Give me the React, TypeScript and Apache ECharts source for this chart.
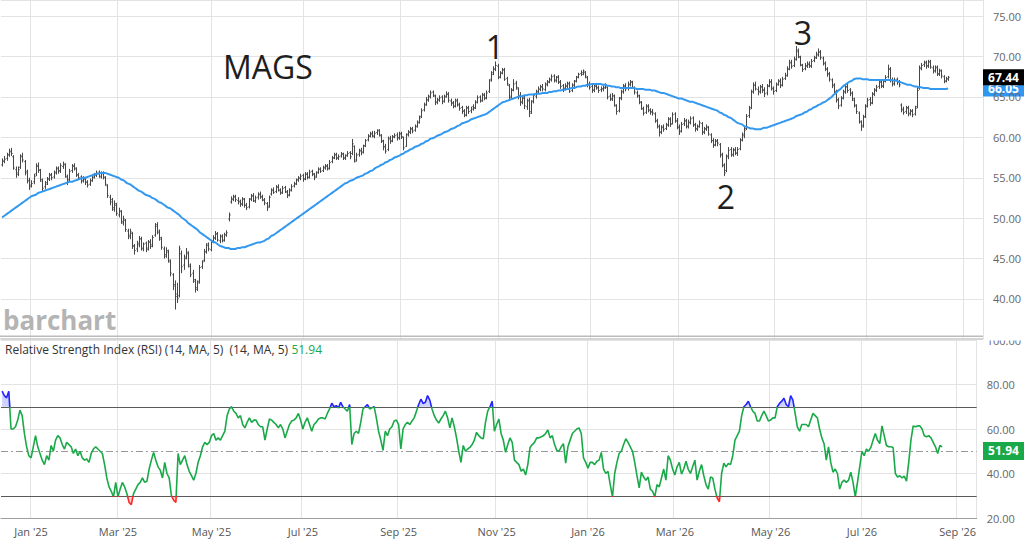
import React, { useEffect, useRef } from "react";
import * as echarts from "echarts";

// ---- price data (daily OHLC, Dec 12 2024 .. Aug 21 2026) ----
const closes = [
  57.0, 57.3, 57.8, 58.2, 58.0, 56.2, 55.4, 56.0, 57.6, 57.2,
  55.6, 54.6, 53.9, 54.3, 55.2, 56.4, 56.0, 54.8, 53.7, 54.2,
  54.8, 55.3, 55.0, 55.6, 56.1, 55.8, 56.5, 56.7, 55.2, 54.6,
  55.8, 56.4, 56.2, 55.3, 55.0, 54.6, 54.9, 54.4, 54.1, 54.6,
  55.0, 55.4, 55.6, 55.2, 55.5, 55.1, 54.2, 52.8, 52.0, 51.3,
  51.8, 50.6, 50.9, 49.6, 49.9, 48.6, 47.9, 48.3, 46.6, 46.0,
  46.9, 47.4, 46.3, 46.8, 46.1, 47.0, 46.5, 47.6, 49.0, 48.4,
  47.6, 46.4, 45.5, 46.0, 44.8, 43.2, 41.6, 40.3, 40.1, 46.2,
  44.0, 45.0, 45.8, 44.2, 43.0, 42.4, 41.2, 42.0, 43.9, 44.6,
  45.8, 46.6, 46.2, 47.0, 47.6, 48.0, 47.3, 47.7, 47.2, 47.9,
  48.2, 50.4, 52.4, 52.6, 52.3, 52.1, 51.8, 52.4, 51.6, 51.3,
  52.3, 52.7, 52.2, 52.5, 52.9, 52.6, 52.3, 51.9, 51.3, 52.6,
  53.4, 53.2, 53.8, 53.5, 53.1, 53.7, 53.3, 52.8, 53.4, 53.9,
  54.2, 54.7, 54.9, 55.2, 54.8, 55.4, 55.0, 55.7, 55.5, 55.0,
  55.6, 56.0, 55.8, 56.2, 56.4, 56.1, 56.9, 57.4, 57.8, 57.5,
  57.6, 57.9, 57.4, 57.7, 58.0, 57.6, 59.2, 57.0, 57.8, 58.3,
  58.1, 58.9, 59.6, 60.1, 60.4, 60.2, 60.5, 60.8, 60.3, 59.6,
  58.8, 58.3, 59.8, 59.5, 60.0, 60.2, 59.9, 60.4, 60.1, 58.7,
  60.3, 60.6, 61.0, 60.8, 61.3, 61.8, 62.4, 63.3, 64.0, 64.6,
  65.0, 65.5, 65.2, 64.3, 64.6, 64.9, 64.4, 65.0, 65.3, 64.6,
  64.2, 63.8, 64.5, 64.0, 63.6, 63.2, 62.7, 63.6, 63.2, 63.5,
  63.6, 64.3, 64.9, 64.5, 65.2, 64.8, 65.5, 67.0, 67.8, 68.4,
  68.9, 67.4, 67.9, 68.3, 67.2, 66.6, 64.9, 65.8, 66.6, 66.2,
  65.0, 64.3, 64.8, 63.9, 64.5, 63.0, 64.4, 65.2, 65.6, 66.0,
  66.2, 66.0, 66.5, 66.8, 67.2, 67.5, 67.1, 67.4, 66.8, 66.3,
  66.0, 66.4, 66.6, 65.7, 66.5, 66.9, 67.4, 67.8, 68.0, 68.2,
  67.6, 66.5, 66.2, 65.9, 66.3, 66.2, 65.8, 66.0, 66.1, 66.4,
  65.0, 64.8, 65.2, 64.0, 63.2, 64.8, 65.6, 66.3, 66.0, 66.6,
  66.8, 66.2, 65.6, 65.2, 64.4, 63.6, 63.0, 63.8, 63.4, 63.1,
  63.0, 62.0, 61.4, 60.6, 61.2, 61.0, 61.5, 62.2, 61.6, 62.8,
  62.0, 61.2, 60.7, 61.6, 62.0, 61.3, 61.9, 62.3, 61.5, 61.0,
  61.3, 61.8, 60.6, 61.0, 61.3, 60.4, 59.6, 59.0, 59.5, 59.3,
  57.8, 56.6, 55.6, 57.6, 58.4, 57.9, 58.4, 58.1, 58.5, 59.6,
  60.2, 60.9, 62.6, 63.5, 65.6, 66.4, 66.0, 65.6, 66.2, 65.8,
  65.4, 66.3, 66.8, 66.1, 65.7, 66.5, 66.9, 66.4, 67.2, 67.6,
  68.4, 69.2, 68.8, 69.6, 70.6, 70.0, 69.0, 68.4, 68.8, 69.0,
  68.9, 69.4, 69.8, 70.3, 70.5, 69.9, 69.1, 68.5, 67.8, 67.2,
  66.4, 65.6, 64.6, 63.9, 64.8, 65.6, 66.2, 65.8, 65.4, 64.8,
  64.0, 63.2, 62.0, 61.3, 62.5, 63.8, 64.6, 64.2, 65.3, 65.8,
  66.2, 66.8, 66.4, 66.9, 67.4, 68.4, 67.0, 66.6, 67.1, 66.8,
  66.5, 63.4, 63.1, 63.6, 62.9, 63.2, 62.8, 63.6, 65.8, 68.5,
  68.9, 69.2, 68.8, 69.3, 68.7, 68.2, 68.6, 67.9, 68.3, 67.6,
  66.9, 67.3, 67.44,
];

const opens = [
  56.6, 57.1, 57.4, 57.9, 58.3, 57.6, 56.0, 55.6, 56.3, 57.7,
  57.0, 55.8, 54.7, 54.1, 54.5, 55.5, 56.5, 55.9, 54.6, 53.9,
  54.4, 54.9, 55.4, 55.1, 55.7, 56.2, 55.9, 56.4, 56.6, 55.1,
  54.8, 55.9, 56.5, 56.1, 55.4, 55.1, 54.7, 54.8, 54.5, 54.2,
  54.7, 55.1, 55.3, 55.7, 55.1, 55.6, 55.0, 54.0, 52.6, 52.3,
  51.1, 51.6, 50.4, 50.8, 49.4, 49.7, 48.4, 47.7, 48.1, 46.5,
  46.2, 46.7, 47.5, 46.2, 46.9, 46.3, 47.1, 46.7, 47.9, 49.2,
  48.2, 47.4, 46.2, 45.3, 45.8, 44.6, 43.0, 41.8, 40.6, 40.4,
  45.6, 44.2, 45.2, 45.6, 44.0, 43.2, 42.2, 41.4, 42.2, 44.0,
  44.8, 45.9, 46.8, 46.1, 47.2, 47.5, 48.1, 47.2, 47.8, 47.3,
  48.0, 49.9, 52.0, 52.3, 52.7, 52.2, 52.0, 51.7, 52.3, 51.6,
  51.4, 52.4, 52.8, 52.1, 52.6, 53.0, 52.7, 52.2, 51.8, 51.5,
  53.0, 53.5, 53.3, 53.9, 53.4, 53.2, 53.8, 53.2, 52.9, 53.5,
  54.0, 54.3, 54.8, 55.0, 55.3, 54.9, 55.5, 55.1, 55.8, 55.4,
  55.2, 55.7, 56.1, 55.9, 56.3, 56.5, 56.2, 57.0, 57.5, 57.9,
  57.4, 57.7, 58.0, 57.5, 57.8, 58.1, 58.0, 58.9, 57.2, 57.9,
  58.4, 58.2, 59.0, 59.7, 60.2, 60.5, 60.1, 60.6, 60.9, 60.2,
  59.5, 58.9, 58.5, 59.9, 59.6, 60.1, 60.3, 60.0, 60.5, 60.0,
  58.9, 60.4, 60.7, 61.1, 60.9, 61.4, 61.9, 62.6, 63.4, 64.1,
  64.7, 65.1, 65.6, 65.1, 64.4, 64.7, 65.0, 64.5, 65.1, 65.4,
  64.5, 64.3, 63.9, 64.6, 64.1, 63.7, 63.3, 62.8, 63.7, 63.3,
  63.8, 63.7, 64.4, 65.0, 64.6, 65.3, 64.9, 65.7, 67.2, 68.0,
  68.5, 68.8, 67.5, 68.0, 68.4, 67.3, 66.4, 65.1, 65.9, 66.7,
  66.0, 65.2, 64.4, 64.9, 63.8, 64.6, 63.2, 64.5, 65.1, 65.7,
  65.9, 66.3, 65.9, 66.6, 66.9, 67.1, 67.6, 67.0, 67.5, 66.9,
  66.4, 66.1, 66.3, 66.7, 65.8, 66.4, 67.0, 67.5, 67.9, 67.8,
  68.0, 67.4, 66.6, 66.3, 65.8, 66.4, 66.1, 65.9, 66.0, 66.2,
  66.2, 65.1, 64.7, 65.1, 63.9, 63.3, 64.9, 65.7, 66.4, 66.1,
  66.5, 66.9, 66.1, 65.5, 65.1, 64.3, 63.5, 63.1, 63.9, 63.3,
  63.2, 62.9, 62.1, 61.3, 60.7, 61.3, 61.1, 61.6, 62.3, 61.7,
  62.9, 62.1, 61.3, 60.8, 61.7, 62.1, 61.4, 61.8, 62.4, 61.6,
  61.1, 61.4, 61.7, 60.7, 61.1, 61.2, 60.3, 59.6, 59.1, 59.6,
  59.1, 57.9, 56.5, 55.9, 57.7, 58.5, 57.8, 58.5, 58.0, 58.6,
  59.7, 60.4, 61.1, 62.7, 63.7, 65.7, 66.5, 65.9, 65.7, 66.3,
  65.9, 65.5, 66.4, 66.9, 66.0, 65.8, 66.6, 67.0, 66.5, 67.3,
  67.7, 68.5, 69.3, 68.9, 69.7, 70.8, 69.9, 68.9, 68.5, 68.9,
  69.1, 68.8, 69.5, 69.9, 70.2, 70.6, 69.8, 69.2, 68.4, 67.9,
  67.1, 66.5, 65.7, 64.7, 64.0, 64.9, 65.7, 66.3, 65.9, 65.5,
  64.6, 63.9, 63.0, 61.9, 61.5, 62.6, 63.9, 64.7, 64.3, 65.4,
  65.9, 66.3, 66.9, 66.3, 67.0, 67.5, 68.5, 67.1, 66.7, 67.2,
  66.9, 64.0, 63.5, 63.2, 63.7, 63.0, 63.3, 62.9, 63.8, 66.1,
  68.6, 69.0, 69.3, 68.9, 69.4, 68.6, 68.3, 68.7, 67.8, 68.2,
  67.5, 67.0, 67.2,
];

const highs = [
  57.4, 57.7, 58.1, 58.6, 58.7, 57.8, 56.4, 56.4, 57.9, 58.1,
  57.2, 56.0, 55.0, 54.7, 55.5, 56.8, 56.9, 56.1, 54.9, 54.6,
  55.1, 55.6, 55.6, 55.9, 56.4, 56.4, 56.8, 57.0, 56.8, 55.4,
  56.1, 56.7, 56.8, 56.3, 55.6, 55.3, 55.2, 55.0, 54.7, 54.9,
  55.3, 55.6, 55.9, 55.9, 55.8, 55.8, 55.2, 54.2, 52.9, 52.5,
  52.2, 51.9, 51.3, 51.0, 50.3, 49.9, 48.7, 48.7, 48.3, 46.8,
  47.2, 47.8, 47.7, 47.0, 47.1, 47.3, 47.4, 47.9, 49.4, 49.5,
  48.6, 47.7, 46.5, 46.4, 46.1, 44.9, 43.2, 42.3, 42.0, 46.6,
  46.0, 45.5, 46.3, 45.9, 44.4, 43.6, 42.5, 42.3, 44.2, 44.8,
  46.2, 46.9, 47.0, 47.3, 47.9, 48.4, 48.3, 48.0, 48.0, 48.2,
  48.5, 50.7, 52.7, 52.9, 52.9, 52.6, 52.3, 52.6, 52.5, 51.9,
  52.5, 53.0, 53.1, 52.8, 53.2, 53.3, 52.9, 52.5, 52.0, 52.8,
  53.7, 53.8, 54.1, 54.2, 53.7, 54.0, 54.0, 53.5, 53.7, 54.2,
  54.5, 54.9, 55.2, 55.5, 55.5, 55.7, 55.7, 56.0, 56.0, 55.6,
  55.8, 56.3, 56.3, 56.5, 56.7, 56.7, 57.2, 57.7, 58.1, 58.1,
  57.9, 58.2, 58.1, 57.9, 58.3, 58.3, 59.8, 59.0, 58.1, 58.6,
  58.7, 59.1, 59.8, 60.4, 60.7, 60.8, 60.8, 61.0, 61.0, 60.4,
  59.7, 59.2, 60.1, 60.2, 60.3, 60.5, 60.6, 60.7, 60.7, 60.1,
  60.5, 60.9, 61.3, 61.3, 61.6, 62.1, 62.7, 63.6, 64.3, 65.0,
  65.3, 65.8, 65.8, 65.3, 64.9, 65.2, 65.2, 65.3, 65.7, 65.6,
  64.8, 64.5, 64.8, 64.8, 64.3, 63.9, 63.5, 63.9, 63.9, 63.8,
  64.1, 64.6, 65.2, 65.2, 65.5, 65.5, 65.8, 67.2, 68.2, 68.8,
  69.4, 69.1, 68.2, 68.6, 68.6, 67.5, 66.6, 66.1, 67.2, 67.0,
  66.2, 65.6, 65.2, 65.2, 64.8, 64.9, 64.6, 65.4, 65.9, 66.3,
  66.5, 66.6, 66.8, 67.1, 67.4, 67.8, 67.8, 67.6, 67.7, 67.1,
  66.6, 66.7, 66.9, 66.9, 66.7, 67.1, 67.6, 68.0, 68.3, 68.4,
  68.2, 67.6, 66.9, 66.6, 66.6, 66.7, 66.4, 66.3, 66.4, 66.7,
  66.3, 65.4, 65.5, 65.3, 64.1, 65.0, 65.9, 66.6, 66.7, 66.9,
  67.1, 67.0, 66.3, 65.8, 65.3, 64.5, 63.8, 64.1, 64.1, 63.6,
  63.5, 63.1, 62.3, 61.6, 61.5, 61.6, 61.8, 62.5, 62.5, 63.1,
  63.1, 62.4, 61.6, 61.9, 62.4, 62.3, 62.2, 62.6, 62.6, 61.8,
  61.6, 62.1, 61.9, 61.3, 61.6, 61.4, 60.5, 59.9, 59.8, 59.8,
  59.3, 58.1, 56.8, 57.9, 58.8, 58.8, 58.7, 58.8, 58.8, 59.9,
  60.6, 61.4, 62.9, 63.9, 65.9, 66.8, 66.9, 66.3, 66.5, 66.6,
  66.2, 66.6, 67.2, 67.2, 66.3, 66.8, 67.2, 67.3, 67.5, 68.0,
  68.8, 69.6, 69.6, 70.0, 71.3, 71.0, 70.1, 69.1, 69.2, 69.4,
  69.4, 69.7, 70.1, 70.6, 71.0, 70.8, 70.0, 69.4, 68.7, 68.1,
  67.3, 66.7, 65.9, 64.9, 65.1, 65.9, 66.6, 66.8, 66.1, 65.7,
  64.9, 64.1, 63.2, 62.1, 62.8, 64.1, 64.9, 65.0, 65.6, 66.1,
  66.5, 67.1, 67.2, 67.2, 67.7, 69.0, 68.7, 67.4, 67.4, 67.4,
  67.1, 64.2, 63.8, 63.9, 63.9, 63.5, 63.5, 63.9, 66.3, 68.9,
  69.2, 69.5, 69.5, 69.6, 69.6, 68.9, 68.9, 68.9, 68.5, 68.4,
  67.7, 67.5, 67.6,
];

const lows = [
  56.4, 56.8, 57.1, 57.6, 57.7, 56.0, 55.0, 55.2, 56.1, 56.9,
  55.3, 54.3, 53.5, 53.8, 54.2, 55.2, 55.6, 54.5, 53.3, 53.6,
  54.1, 54.6, 54.7, 54.9, 55.4, 55.5, 55.6, 56.1, 55.0, 54.1,
  54.6, 55.6, 55.9, 55.1, 54.7, 54.3, 54.4, 54.1, 53.8, 54.0,
  54.5, 54.9, 55.1, 55.0, 54.9, 54.8, 54.0, 52.5, 51.6, 50.9,
  50.8, 50.3, 50.1, 49.3, 49.1, 48.3, 47.4, 47.4, 46.2, 45.5,
  45.8, 46.4, 46.0, 45.9, 45.8, 46.0, 46.2, 46.4, 47.7, 48.0,
  47.2, 46.1, 45.0, 45.1, 44.5, 42.8, 41.1, 38.7, 39.5, 40.2,
  43.2, 43.6, 44.9, 43.9, 42.7, 42.0, 40.8, 41.0, 41.9, 43.7,
  44.6, 45.6, 45.9, 45.9, 46.9, 47.3, 47.1, 46.9, 47.0, 47.1,
  47.7, 49.6, 51.8, 52.1, 52.0, 51.7, 51.4, 51.5, 51.3, 51.0,
  51.2, 52.1, 52.0, 51.9, 52.3, 52.4, 52.1, 51.6, 50.9, 51.3,
  52.8, 53.0, 53.1, 53.3, 52.9, 53.0, 53.1, 52.5, 52.7, 53.3,
  53.8, 54.1, 54.5, 54.7, 54.5, 54.7, 54.8, 54.9, 55.2, 54.7,
  55.0, 55.5, 55.6, 55.7, 56.0, 55.9, 56.0, 56.8, 57.3, 57.2,
  57.2, 57.5, 57.2, 57.2, 57.6, 57.3, 57.8, 56.9, 57.0, 57.6,
  57.8, 58.0, 58.8, 59.5, 60.0, 60.0, 59.9, 60.3, 60.1, 59.3,
  58.4, 58.0, 58.3, 59.2, 59.4, 59.9, 59.6, 59.7, 59.8, 58.4,
  58.8, 60.1, 60.4, 60.5, 60.7, 61.2, 61.7, 62.4, 63.2, 63.9,
  64.4, 64.8, 65.0, 64.0, 64.1, 64.4, 64.1, 64.3, 64.9, 64.3,
  63.9, 63.6, 63.7, 63.8, 63.3, 62.9, 62.5, 62.6, 62.9, 63.0,
  63.3, 63.5, 64.2, 64.3, 64.4, 64.6, 64.7, 65.5, 66.9, 67.7,
  68.2, 67.2, 67.3, 67.8, 67.0, 66.4, 64.5, 64.8, 65.7, 65.9,
  64.7, 63.9, 64.1, 63.5, 63.4, 62.5, 62.9, 64.2, 64.8, 65.4,
  65.7, 65.7, 65.7, 66.3, 66.7, 66.9, 66.8, 66.8, 66.6, 66.0,
  65.6, 65.8, 66.1, 65.5, 65.6, 66.2, 66.8, 67.3, 67.6, 67.7,
  67.3, 66.2, 65.9, 65.5, 65.6, 65.9, 65.5, 65.6, 65.7, 66.0,
  64.7, 64.5, 64.5, 63.8, 62.8, 63.1, 64.6, 65.4, 65.7, 65.8,
  66.3, 66.0, 65.3, 64.9, 64.1, 63.4, 62.7, 62.9, 63.1, 62.8,
  62.7, 61.8, 61.1, 60.1, 60.4, 60.7, 60.9, 61.3, 61.3, 61.6,
  61.8, 61.0, 60.3, 60.6, 61.4, 61.1, 61.1, 61.6, 61.3, 60.7,
  60.8, 61.2, 60.3, 60.4, 60.8, 60.2, 59.3, 58.7, 58.9, 58.9,
  57.5, 56.3, 55.2, 55.7, 57.3, 57.6, 57.6, 57.8, 57.7, 58.4,
  59.5, 59.9, 60.9, 62.4, 63.5, 65.4, 65.8, 65.2, 65.4, 65.5,
  65.0, 65.2, 66.2, 65.8, 65.3, 65.6, 66.4, 66.1, 66.3, 67.1,
  67.5, 68.3, 68.5, 68.7, 69.5, 69.8, 68.8, 68.1, 68.3, 68.6,
  68.6, 68.6, 69.3, 69.7, 70.0, 69.6, 68.9, 68.2, 67.5, 66.9,
  66.1, 65.3, 64.3, 63.5, 63.8, 64.7, 65.4, 65.5, 65.1, 64.5,
  63.7, 62.9, 61.7, 60.8, 61.2, 62.4, 63.7, 63.9, 64.1, 65.1,
  65.6, 66.0, 66.1, 66.1, 66.8, 67.3, 66.8, 66.3, 66.4, 66.5,
  66.2, 63.1, 62.8, 62.9, 62.6, 62.7, 62.5, 62.7, 63.6, 65.9,
  68.3, 68.7, 68.5, 68.6, 68.5, 67.9, 68.0, 67.6, 67.6, 67.3,
  66.7, 66.8, 67.0,
];

// ---- moving average (blue line) ----
const movingAvg = [
  50.1, 50.3, 50.5, 50.7, 50.9, 51.1, 51.3, 51.5, 51.7, 51.9,
  52.1, 52.3, 52.5, 52.7, 52.8, 52.9, 53.1, 53.2, 53.3, 53.4,
  53.5, 53.6, 53.7, 53.8, 53.9, 54.0, 54.1, 54.2, 54.3, 54.4,
  54.5, 54.5, 54.6, 54.7, 54.8, 54.9, 55.0, 55.0, 55.1, 55.2,
  55.3, 55.4, 55.5, 55.5, 55.6, 55.6, 55.6, 55.5, 55.4, 55.3,
  55.2, 55.1, 55.0, 54.8, 54.7, 54.5, 54.3, 54.2, 54.0, 53.8,
  53.6, 53.4, 53.3, 53.1, 52.9, 52.8, 52.7, 52.5, 52.4, 52.2,
  52.0, 51.9, 51.7, 51.5, 51.3, 51.2, 51.0, 50.8, 50.6, 50.4,
  50.1, 49.9, 49.7, 49.4, 49.2, 49.0, 48.8, 48.6, 48.3, 48.1,
  47.9, 47.7, 47.5, 47.3, 47.1, 47.0, 46.8, 46.6, 46.5, 46.4,
  46.3, 46.3, 46.2, 46.2, 46.2, 46.3, 46.3, 46.4, 46.4, 46.5,
  46.6, 46.7, 46.8, 46.9, 47.0, 47.0, 47.1, 47.2, 47.4, 47.5,
  47.8, 47.9, 48.1, 48.3, 48.5, 48.7, 48.9, 49.1, 49.3, 49.5,
  49.7, 49.9, 50.1, 50.3, 50.5, 50.7, 50.9, 51.1, 51.3, 51.5,
  51.7, 51.9, 52.1, 52.3, 52.5, 52.7, 52.9, 53.1, 53.3, 53.5,
  53.7, 53.9, 54.1, 54.3, 54.4, 54.6, 54.7, 54.8, 55.0, 55.1,
  55.2, 55.3, 55.5, 55.6, 55.8, 55.9, 56.1, 56.3, 56.4, 56.6,
  56.7, 56.9, 57.0, 57.2, 57.3, 57.5, 57.6, 57.7, 57.9, 58.0,
  58.2, 58.3, 58.5, 58.6, 58.8, 58.9, 59.0, 59.2, 59.3, 59.5,
  59.6, 59.8, 59.9, 60.0, 60.2, 60.3, 60.4, 60.6, 60.7, 60.8,
  61.0, 61.1, 61.2, 61.4, 61.5, 61.7, 61.8, 61.9, 62.0, 62.2,
  62.3, 62.4, 62.5, 62.6, 62.7, 62.8, 62.9, 63.1, 63.3, 63.5,
  63.7, 63.9, 64.1, 64.3, 64.4, 64.5, 64.6, 64.7, 64.8, 64.9,
  65.0, 65.1, 65.1, 65.2, 65.2, 65.3, 65.3, 65.3, 65.4, 65.4,
  65.4, 65.5, 65.5, 65.5, 65.6, 65.6, 65.7, 65.7, 65.8, 65.8,
  65.9, 65.9, 66.0, 66.0, 66.1, 66.1, 66.2, 66.3, 66.3, 66.4,
  66.4, 66.5, 66.5, 66.6, 66.6, 66.6, 66.6, 66.6, 66.5, 66.5,
  66.4, 66.4, 66.3, 66.3, 66.2, 66.2, 66.1, 66.1, 66.1, 66.1,
  66.1, 66.1, 66.1, 66.0, 66.0, 66.0, 66.0, 65.9, 65.9, 65.9,
  65.8, 65.8, 65.7, 65.6, 65.5, 65.5, 65.4, 65.3, 65.2, 65.1,
  65.0, 64.9, 64.8, 64.8, 64.7, 64.6, 64.5, 64.4, 64.4, 64.3,
  64.2, 64.1, 64.0, 63.9, 63.8, 63.7, 63.6, 63.5, 63.4, 63.3,
  63.1, 63.0, 62.8, 62.7, 62.5, 62.4, 62.2, 62.0, 61.8, 61.7,
  61.6, 61.4, 61.3, 61.2, 61.1, 61.1, 61.0, 61.0, 61.0, 61.1,
  61.2, 61.2, 61.3, 61.4, 61.5, 61.6, 61.7, 61.8, 61.9, 62.0,
  62.1, 62.2, 62.3, 62.4, 62.6, 62.7, 62.8, 62.9, 63.1, 63.2,
  63.4, 63.5, 63.7, 63.8, 64.0, 64.1, 64.3, 64.4, 64.6, 64.8,
  65.0, 65.3, 65.5, 65.8, 66.0, 66.3, 66.5, 66.7, 66.9, 67.0,
  67.2, 67.3, 67.3, 67.3, 67.2, 67.2, 67.2, 67.1, 67.1, 67.1,
  67.1, 67.1, 67.1, 67.1, 67.1, 67.1, 67.1, 67.1, 67.0, 67.0,
  66.9, 66.8, 66.7, 66.6, 66.5, 66.5, 66.4, 66.3, 66.3, 66.2,
  66.2, 66.1, 66.1, 66.1, 66.0, 66.0, 66.0, 66.0, 66.0, 66.0,
  66.0, 66.0, 66.05,
];

// ---- RSI (14) ----
const rsi = [
  77, 75, 74, 77, 60, 60, 61, 64, 68.5, 66,
  58, 52, 48, 47, 52, 57, 52, 49, 46, 44,
  48, 46, 52.6, 50, 55, 57, 56, 53, 51, 54,
  53, 52, 49, 51, 48, 50, 47, 46, 46.5, 45,
  49, 51, 52, 51, 50, 49, 44, 38, 34, 32,
  29.5, 36, 29.5, 33, 36, 34, 31, 27, 26, 31,
  33, 35, 36, 38, 36, 36.5, 42, 46, 49.5, 46,
  43, 41.5, 38, 45, 40, 38, 30, 28, 27, 49,
  44, 46, 48, 44, 41, 39, 37, 40, 45, 48,
  52, 54, 53, 54, 57, 58, 55, 56, 55, 57,
  59, 66, 69, 70, 68, 67, 65, 66, 62, 60.5,
  63, 65, 63, 64, 64, 62, 61, 61, 55, 60,
  64.5, 64, 63, 62, 60.5, 62, 60, 56, 59, 62,
  63.6, 64, 65, 67, 64, 60, 63, 65, 62, 59,
  62, 63, 64.5, 65, 65, 64.5, 67, 69, 71.6, 70,
  70.5, 69.5, 72, 70, 69, 68, 71, 53, 58, 59,
  58, 63, 69, 70, 71, 69, 69.5, 70, 65, 59,
  55, 50.4, 59, 57, 60, 61, 63.6, 64, 62, 51,
  60, 62, 63, 62, 63.6, 65, 68, 71, 73.4, 71.5,
  72, 75, 73, 69, 66, 64, 62.7, 64.5, 66, 68,
  65, 60.5, 65, 61, 56, 50, 45, 52.6, 50, 51,
  51.7, 53, 55, 58.5, 57, 56, 55.6, 63, 68, 70,
  72.5, 59, 62, 64.5, 58, 55, 49.5, 53, 56, 54,
  46, 45, 44, 41, 42, 39.3, 44, 51.7, 53, 54,
  56, 56, 56.5, 57, 58, 59.6, 56, 57, 53, 50.4,
  50, 52, 53.4, 44.6, 52, 55, 58, 59, 60, 60.5,
  58, 47, 45, 42.4, 45, 45, 44, 45.5, 46, 49.5,
  42, 40, 41, 35, 29.5, 40, 45, 49, 50, 53,
  55.6, 54, 52, 50, 45, 39, 33.5, 40.6, 38.4, 37,
  38.4, 33, 32, 29.5, 35, 34, 38, 42, 37, 48,
  46, 42, 39.3, 43, 45, 39.7, 42, 45.5, 42, 40,
  43, 46, 37, 41, 44, 39, 35, 33, 38.4, 38,
  33, 29, 27.3, 40, 44.6, 43, 44.5, 44, 48, 55,
  57, 59, 66, 70, 71, 72.5, 70, 68, 67, 63.6,
  63.6, 66, 68, 66, 63.6, 64, 65, 65, 70, 71.5,
  72.5, 73.8, 71, 70, 75, 73, 67, 61, 59, 62,
  62, 62, 61, 64, 67, 66, 65, 60, 56, 53.4,
  46, 52, 45, 40.6, 42, 40, 33, 36, 37, 36,
  37, 40.6, 36, 29.5, 36, 43, 50, 48, 51, 50,
  51.7, 55, 58, 55, 53.4, 61.4, 57, 52.6, 52, 52,
  51.7, 40, 38.4, 39, 38, 38.8, 36.6, 45, 55, 61.4,
  61, 61.4, 61.4, 60, 57, 56.5, 57, 56, 54, 52,
  49, 52.6, 51.94,
];

const rsiUpper = 70;
const rsiLower = 30;
const rsiMid = 50;
const holidays = [
  "2024-12-25", "2025-01-01", "2025-01-09", "2025-01-20", "2025-02-17",
  "2025-04-18", "2025-05-26", "2025-06-19", "2025-07-04", "2025-09-01",
  "2025-11-27", "2025-12-25", "2026-01-01", "2026-01-19", "2026-02-16",
  "2026-04-03", "2026-05-25", "2026-06-19", "2026-07-03", "2026-09-07",
];
const monthNames = ["Jan", "Feb", "Mar", "Apr", "May", "Jun", "Jul", "Aug", "Sep", "Oct", "Nov", "Dec"];
const CATEGORY_COUNT = 438;

function buildDates(): string[] {
  const out: string[] = [];
  const d = new Date(Date.UTC(2024, 11, 12));
  while (out.length < CATEGORY_COUNT) {
    const wd = d.getUTCDay();
    const s = d.toISOString().slice(0, 10);
    if (wd !== 0 && wd !== 6 && holidays.indexOf(s) < 0) out.push(s);
    d.setUTCDate(d.getUTCDate() + 1);
  }
  return out;
}

export default function App() {
  const ref = useRef<HTMLDivElement>(null);

  useEffect(() => {
    if (!ref.current) return;
    const chart = echarts.init(ref.current, undefined, { renderer: "svg" });
    const dates = buildDates();
    const monthStart = new Set<number>();
    for (let i = 1; i < dates.length; i++) {
      const m = parseInt(dates[i].slice(5, 7), 10);
      const pm = parseInt(dates[i - 1].slice(5, 7), 10);
      if (m !== pm && m % 2 === 1) monthStart.add(i);
    }
    const isMonthStart = (idx: number) => monthStart.has(idx);
    const fmtDate = (v: string) => {
      const m = parseInt(v.slice(5, 7), 10);
      return monthNames[m - 1] + " '" + v.slice(2, 4);
    };

    const bars = closes.map((c, i) => [i, opens[i], highs[i], lows[i], c]);
    const upBase = rsi.map(() => rsiUpper);
    const upDelta = rsi.map((v) => Math.max(v - rsiUpper, 0));
    const loBase = rsi.map((v) => Math.min(v, rsiLower));
    const loDelta = rsi.map((v) => rsiLower - Math.min(v, rsiLower));

    const gridColor = "#e3e3e3";
    const FONT = "'Open Sans', 'Noto Sans', sans-serif";

    const splitLine = { show: true, interval: isMonthStart, lineStyle: { color: gridColor, width: 1 } };

    chart.setOption({
      animation: false,
      backgroundColor: "#ffffff",
      textStyle: { fontFamily: FONT },
      grid: [
        { left: 1, right: 41, top: 0, height: 339.4 },
        { left: 1, right: 41, top: 340, height: 178 },
      ],
      xAxis: [
        {
          type: "category", gridIndex: 0, data: dates, boundaryGap: true,
          axisLine: { show: false }, axisTick: { show: false }, axisLabel: { show: false },
          splitLine,
        },
        {
          type: "category", gridIndex: 1, data: dates, boundaryGap: true,
          axisLine: { show: true, lineStyle: { color: "#a0a0a0" } }, axisTick: { show: false },
          axisLabel: { interval: isMonthStart, formatter: fmtDate, color: "#555", fontSize: 11, margin: 8, fontFamily: FONT },
          splitLine,
        },
      ],
      yAxis: [
        {
          type: "value", gridIndex: 0, position: "right", min: 35, max: 77, interval: 5,
          axisLine: { show: false }, axisTick: { show: false },
          axisLabel: { formatter: (v: number) => v.toFixed(2), color: "#666", fontSize: 11, margin: 10, showMinLabel: false, showMaxLabel: false, fontFamily: FONT },
          splitLine: { show: true, lineStyle: { color: gridColor } },
        },
        {
          type: "value", gridIndex: 1, position: "right", min: 20, max: 100, interval: 20,
          axisLine: { show: false }, axisTick: { show: false },
          axisLabel: { formatter: (v: number) => v.toFixed(2), color: "#666", fontSize: 11, margin: 10, showMinLabel: true, fontFamily: FONT },
          splitLine: { show: true, lineStyle: { color: gridColor } },
        },
      ],
      visualMap: {
        show: false, type: "piecewise", seriesIndex: 6, dimension: 1,
        pieces: [
          { lt: rsiLower, color: "#ff2626" },
          { gte: rsiLower, lte: rsiUpper, color: "#19a948" },
          { gt: rsiUpper, color: "#2323ff" },
        ],
      },
      series: [
        {
          type: "custom", xAxisIndex: 0, yAxisIndex: 0, data: bars, clip: true,
          encode: { x: 0, y: [1, 2, 3, 4] },
          renderItem: (params: any, api: any) => {
            const i = api.value(0);
            const pH = api.coord([i, api.value(2)]);
            const pL = api.coord([i, api.value(3)]);
            const pO = api.coord([i, api.value(1)]);
            const pC = api.coord([i, api.value(4)]);
            const x = Math.round(pH[0]) + 0.5;
            const st = { stroke: "#474747", lineWidth: 1 };
            return {
              type: "group",
              children: [
                { type: "line", shape: { x1: x, y1: pH[1], x2: x, y2: pL[1] }, style: st },
                { type: "line", shape: { x1: x - 1.2, y1: pO[1], x2: x, y2: pO[1] }, style: st },
                { type: "line", shape: { x1: x, y1: pC[1], x2: x + 1.2, y2: pC[1] }, style: st },
              ],
            };
          },
          z: 3,
        },
        {
          type: "line", xAxisIndex: 0, yAxisIndex: 0, data: movingAvg, showSymbol: false, smooth: 0.3,
          lineStyle: { color: "#3398f0", width: 2 }, z: 4,
        },
        {
          type: "line", xAxisIndex: 1, yAxisIndex: 1, data: upBase, stack: "up", showSymbol: false,
          lineStyle: { opacity: 0 }, silent: true,
        },
        {
          type: "line", xAxisIndex: 1, yAxisIndex: 1, data: upDelta, stack: "up", showSymbol: false,
          lineStyle: { opacity: 0 }, areaStyle: { color: "rgba(100,110,255,0.45)" }, silent: true,
        },
        {
          type: "line", xAxisIndex: 1, yAxisIndex: 1, data: loBase, stack: "lo", showSymbol: false,
          lineStyle: { opacity: 0 }, silent: true,
        },
        {
          type: "line", xAxisIndex: 1, yAxisIndex: 1, data: loDelta, stack: "lo", showSymbol: false,
          lineStyle: { opacity: 0 }, areaStyle: { color: "rgba(255,90,90,0.4)" }, silent: true,
        },
        {
          type: "line", xAxisIndex: 1, yAxisIndex: 1, data: rsi, showSymbol: false,
          lineStyle: { width: 1.6 }, z: 5,
          markLine: {
            silent: true, symbol: ["none", "none"], label: { show: false },
            data: [
              { yAxis: rsiUpper, lineStyle: { color: "#5a5a5a", width: 1, type: "solid" } },
              { yAxis: rsiLower, lineStyle: { color: "#5a5a5a", width: 1, type: "solid" } },
              { yAxis: rsiMid, lineStyle: { color: "#9a9a9a", width: 1, type: [7, 3, 2, 3] } },
            ],
          },
        },
      ],
    });

    const last = closes.length - 1;
    const lastClose = closes[last];
    const lastMa = movingAvg[movingAvg.length - 1];
    const lastRsi = rsi[rsi.length - 1];
    const yClose = chart.convertToPixel({ yAxisIndex: 0 }, lastClose) as number;
    const yMa = chart.convertToPixel({ yAxisIndex: 0 }, lastMa) as number;
    const yRsi = chart.convertToPixel({ yAxisIndex: 1 }, lastRsi) as number;
    const boxX = 983;
    const boxW = 41;

    const box = (y: number, h: number, fill: string, text: string, z: number) => ({
      type: "group", z,
      children: [
        { type: "rect", shape: { x: boxX, y: y - h / 2, width: boxW, height: h }, style: { fill } },
        {
          type: "text", x: boxX + boxW / 2, y,
          style: { text, fill: "#fff", font: `bold 12px ${FONT}`, align: "center", verticalAlign: "middle" },
        },
      ],
    });

    chart.setOption({
      graphic: [
        { type: "rect", z: 50, shape: { x: 984, y: 324, width: 40, height: 16.5 }, style: { fill: "#fff" } },
        { type: "rect", z: 51, shape: { x: 0, y: 335.5, width: 983, height: 1.4 }, style: { fill: "#bcbcbc" } },
        { type: "rect", z: 51, shape: { x: 0, y: 338.2, width: 983, height: 1.2 }, style: { fill: "#c8c8c8" } },
        {
          type: "text", z: 20, x: 223, y: 66,
          style: { text: "MAGS", fill: "#1e1e1e", font: `32px ${FONT}`, verticalAlign: "middle" },
        },
        { type: "text", z: 20, x: 495, y: 46, style: { text: "1", fill: "#1e1e1e", font: `32px ${FONT}`, align: "center", verticalAlign: "middle" } },
        { type: "text", z: 20, x: 726, y: 196, style: { text: "2", fill: "#1e1e1e", font: `32px ${FONT}`, align: "center", verticalAlign: "middle" } },
        { type: "text", z: 20, x: 803, y: 32, style: { text: "3", fill: "#1e1e1e", font: `32px ${FONT}`, align: "center", verticalAlign: "middle" } },
        {
          type: "text", z: 20, x: 3, y: 320,
          style: { text: "barchart", fill: "#b4b4b4", font: `bold 26px ${FONT}`, verticalAlign: "middle" },
        },
        {
          type: "text", z: 20, x: 5, y: 349,
          style: {
            text: "{a|Relative Strength Index (RSI) (14, MA, 5)  (14, MA, 5)} {b|" + lastRsi.toFixed(2) + "}",
            verticalAlign: "middle",
            rich: {
              a: { fill: "#333", fontSize: 12, fontFamily: FONT },
              b: { fill: "#19a948", fontSize: 12, fontFamily: FONT },
            },
          },
        },
        box(yMa, 16, "#2f97f2", lastMa.toFixed(2), 60),
        box(yClose, 16, "#000000", lastClose.toFixed(2), 61),
        box(yRsi + 4, 18, "#19a948", lastRsi.toFixed(2), 60),
      ],
    });

    return () => chart.dispose();
  }, []);

  return (
    <div
      ref={ref}
      style={{ position: "fixed", left: 0, top: 0, width: 1024, height: 543, background: "#fff" }}
    />
  );
}
